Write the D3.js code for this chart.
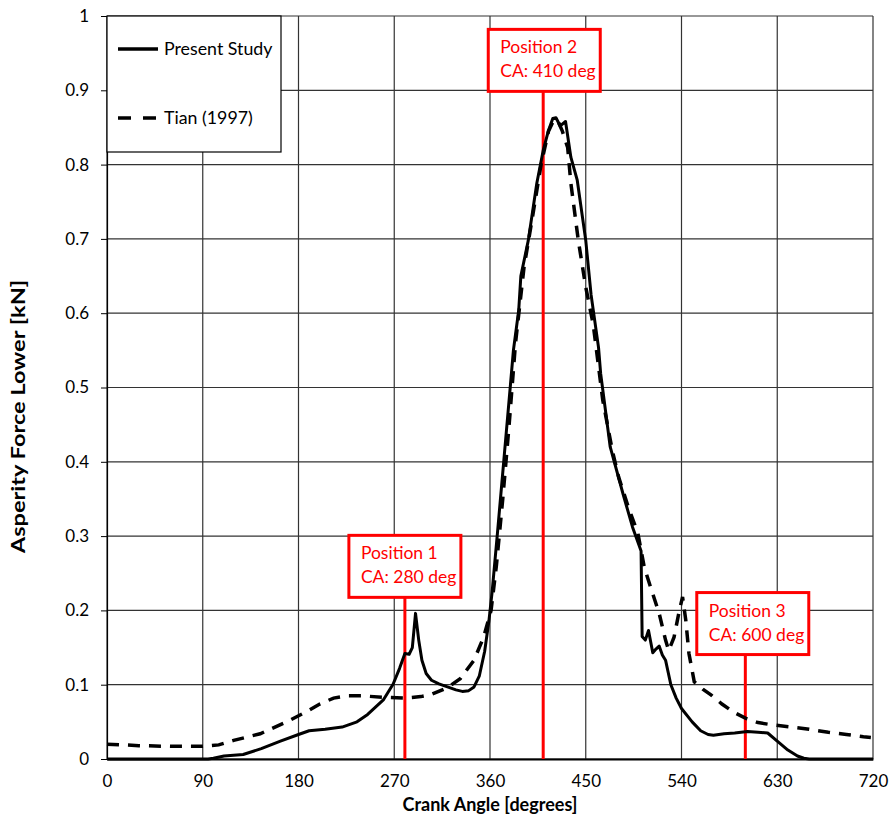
<!DOCTYPE html>
<html>
<head>
<meta charset="utf-8">
<script src="https://cdn.jsdelivr.net/npm/d3@7"></script>
<style>
  body { margin: 0; background: #fff; }
  text { font-family: Lato, "Liberation Sans", sans-serif; }
</style>
</head>
<body>
<div id="chart"></div>
<script>
// crank angle [deg] and asperity force [kN]
var presentAngle = [0, 95, 100, 110, 128, 145, 163, 180, 190, 205, 221, 235, 245, 260, 269, 275, 280, 284, 287, 290, 293, 296, 300, 305, 312, 320, 328, 334, 340, 345, 350, 355, 359, 362, 367, 373, 379, 382, 387, 389, 396, 404, 410, 415, 419, 422, 426, 431, 436, 442, 450, 455, 462, 464, 473, 485, 494, 500, 502, 503, 506, 509, 513, 516, 519, 522, 525, 530, 535, 540, 550, 558, 565, 570, 580, 590, 602, 612, 621, 630, 640, 649, 655, 660, 720]
var presentForce = [0, 0, 0.001, 0.004, 0.006, 0.014, 0.024, 0.033, 0.038, 0.040, 0.043, 0.050, 0.060, 0.080, 0.101, 0.122, 0.142, 0.141, 0.150, 0.196, 0.160, 0.133, 0.115, 0.106, 0.101, 0.097, 0.093, 0.091, 0.092, 0.097, 0.112, 0.145, 0.186, 0.225, 0.304, 0.402, 0.500, 0.550, 0.604, 0.650, 0.698, 0.775, 0.819, 0.846, 0.862, 0.863, 0.852, 0.858, 0.810, 0.779, 0.698, 0.625, 0.554, 0.519, 0.420, 0.357, 0.312, 0.288, 0.280, 0.165, 0.160, 0.173, 0.143, 0.148, 0.152, 0.140, 0.133, 0.100, 0.082, 0.068, 0.050, 0.038, 0.033, 0.032, 0.034, 0.035, 0.037, 0.036, 0.035, 0.024, 0.012, 0.004, 0.001, 0, 0]

var tianAngle = [0, 30, 60, 90, 105, 119, 144, 169, 188, 200, 213, 225, 240, 260, 280, 295, 305, 320, 332, 345, 354, 361, 366, 372, 378, 384, 392, 400, 408, 415, 420, 424, 428, 433, 436, 443, 450, 457, 466, 475, 481, 490, 499, 505, 511, 519, 525, 528, 533, 538, 541, 544, 547, 552, 560, 568, 578, 589, 600, 612, 625, 643, 660, 678, 695, 711, 718]
var tianForce = [0.020, 0.018, 0.017, 0.017, 0.019, 0.025, 0.034, 0.050, 0.064, 0.074, 0.082, 0.085, 0.085, 0.083, 0.082, 0.084, 0.087, 0.096, 0.108, 0.133, 0.164, 0.200, 0.260, 0.350, 0.450, 0.560, 0.662, 0.730, 0.800, 0.845, 0.860, 0.858, 0.845, 0.823, 0.775, 0.698, 0.635, 0.585, 0.483, 0.415, 0.379, 0.339, 0.304, 0.258, 0.231, 0.196, 0.160, 0.146, 0.164, 0.200, 0.218, 0.187, 0.142, 0.104, 0.094, 0.086, 0.074, 0.063, 0.055, 0.049, 0.046, 0.043, 0.040, 0.036, 0.033, 0.030, 0.029]

var xTicks = [0, 90, 180, 270, 360, 450, 540, 630, 720]
var yTicks = [0, 0.1, 0.2, 0.3, 0.4, 0.5, 0.6, 0.7, 0.8, 0.9, 1]

var seriesNames = ['Present Study', 'Tian (1997)']

var markAngle = [280, 410, 600]
var markTitle = ['Position 1', 'Position 2', 'Position 3']
var markLabel = ['CA: 280 deg', 'CA: 410 deg', 'CA: 600 deg']
// where each label box sits: centre angle, top in kN
var boxAngle = [280, 411, 607]
var boxTop = [0.301, 0.982, 0.224]

var width = 890, height = 816,
    margin = {left: 107, right: 17, top: 16, bottom: 57}
var w = width - margin.left - margin.right,
    h = height - margin.top - margin.bottom

var svg = d3.select('#chart')
  .append('svg')
    .attr('width', width)
    .attr('height', height)
  .append('g')
    .attr('transform', 'translate(' + margin.left + ',' + margin.top + ')')

var x = d3.scaleLinear().domain([0, 720]).range([0, w])
var y = d3.scaleLinear().domain([0, 1]).range([h, 0])

// grid
svg.append('g')
  .selectAll('line')
  .data(xTicks)
  .join('line')
    .attr('x1', d => x(d)).attr('x2', d => x(d))
    .attr('y1', 0).attr('y2', h)
    .attr('stroke', '#333').attr('stroke-width', 1.2)
svg.append('g')
  .selectAll('line')
  .data(yTicks)
  .join('line')
    .attr('x1', 0).attr('x2', w)
    .attr('y1', d => y(d)).attr('y2', d => y(d))
    .attr('stroke', '#333').attr('stroke-width', 1.2)

// axes
var yAxis = svg.append('g')
    .call(d3.axisLeft(y).tickValues(yTicks).tickSize(6).tickPadding(12).tickFormat(d3.format('~g')))
yAxis.select('.domain').attr('stroke', '#000').attr('stroke-width', 1.2)
yAxis.selectAll('text').attr('font-size', 17).attr('fill', '#000')
  .style('font-family', 'Lato, sans-serif')

var xAxis = svg.append('g')
    .attr('transform', 'translate(0,' + h + ')')
    .call(d3.axisBottom(x).tickValues(xTicks).tickSize(0).tickPadding(16))
xAxis.select('.domain').attr('stroke', '#000').attr('stroke-width', 2)
xAxis.selectAll('text').attr('font-size', 17).attr('fill', '#000')
  .style('font-family', 'Lato, sans-serif')

// red position markers
markAngle.forEach(function(a, i){
  svg.append('line')
      .attr('x1', x(a)).attr('x2', x(a))
      .attr('y1', y(boxTop[i]) + 62).attr('y2', h)
      .attr('stroke', '#f00').attr('stroke-width', 3)
})

// curves
var line = d3.line().x(d => x(d[0])).y(d => y(d[1]))

svg.append('path')
    .attr('d', line(tianAngle.map((a, i) => [a, tianForce[i]])))
    .attr('fill', 'none').attr('stroke', '#000')
    .attr('stroke-width', 3.5).attr('stroke-dasharray', '12,9')

svg.append('path')
    .attr('d', line(presentAngle.map((a, i) => [a, presentForce[i]])))
    .attr('fill', 'none').attr('stroke', '#000')
    .attr('stroke-width', 3).attr('stroke-linejoin', 'round')

// label boxes
markAngle.forEach(function(a, i){
  var bx = x(boxAngle[i]) - 56, by = y(boxTop[i])
  var g = svg.append('g').attr('transform', 'translate(' + bx + ',' + by + ')')
  g.append('rect')
      .attr('width', 112).attr('height', 62)
      .attr('fill', '#fff').attr('stroke', '#f00').attr('stroke-width', 3)
  g.append('text').attr('x', 12).attr('y', 24)
      .attr('font-size', 17.5).attr('fill', '#f00').text(markTitle[i])
  g.append('text').attr('x', 12).attr('y', 48)
      .attr('font-size', 17.5).attr('fill', '#f00').text(markLabel[i])
})

// legend
var lg = svg.append('g')
lg.append('rect')
    .attr('x', 0).attr('y', 0).attr('width', 174).attr('height', 136)
    .attr('fill', '#fff').attr('stroke', '#000').attr('stroke-width', 1.2)
seriesNames.forEach(function(n, i){
  var ly = 33 + i * 69
  lg.append('line')
      .attr('x1', 11).attr('x2', 51).attr('y1', ly).attr('y2', ly)
      .attr('stroke', '#000').attr('stroke-width', 3.5)
      .attr('stroke-dasharray', i ? '13,12' : null)
  lg.append('text')
      .attr('x', 57).attr('y', ly + 6)
      .attr('font-size', 17.8).text(n)
})

// axis titles
svg.append('text')
    .attr('x', w / 2).attr('y', h + 52)
    .attr('text-anchor', 'middle')
    .attr('font-size', 18).attr('font-weight', 'bold')
    .text('Crank Angle [degrees]')

// the y title is drawn stretched along its length, as in the source picture
svg.append('text')
    .attr('transform', 'translate(' + (-82) + ',' + (h / 2 + 29) + ') rotate(-90) scale(1.31,1)')
    .attr('text-anchor', 'middle')
    .attr('font-size', 18).attr('font-weight', 'bold')
    .text('Asperity Force Lower [kN]')
</script>
</body>
</html>
